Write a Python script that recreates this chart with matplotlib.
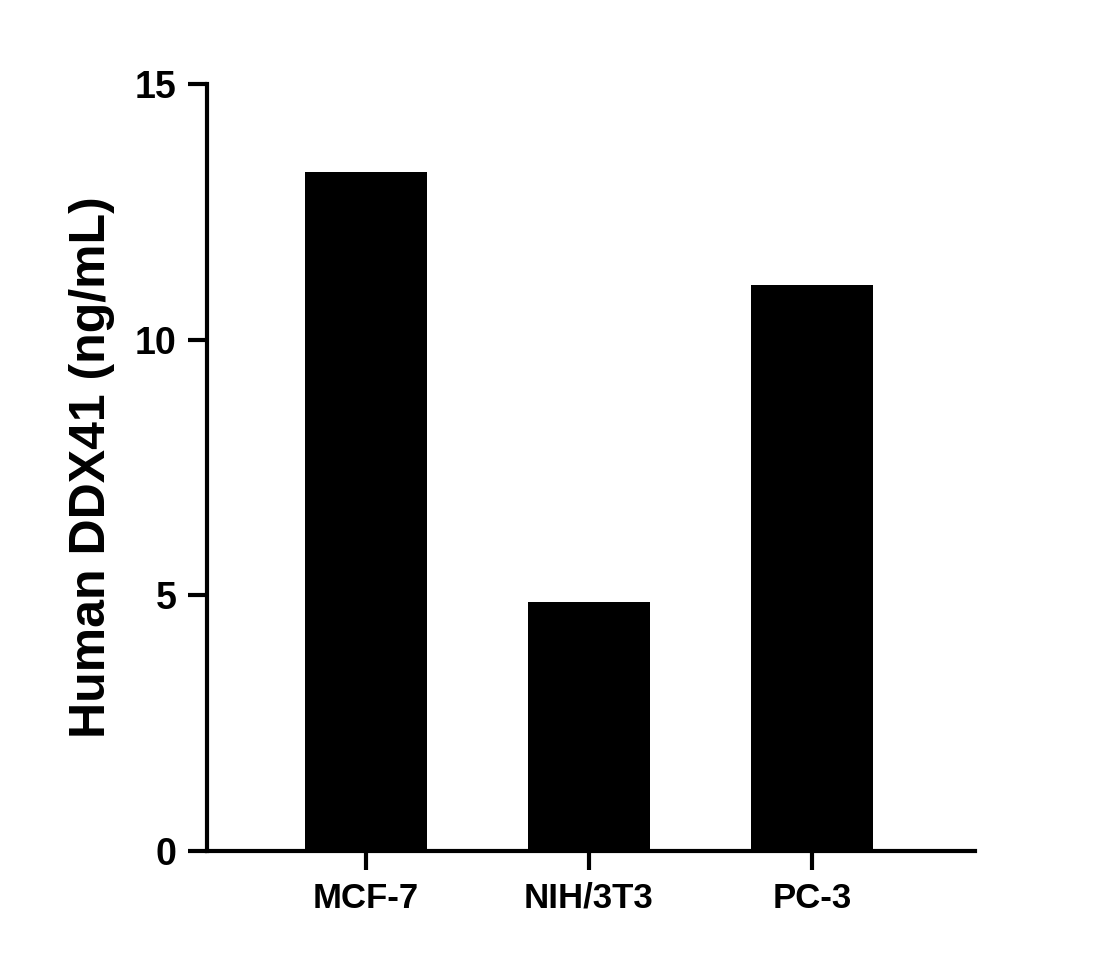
import matplotlib
matplotlib.use('Agg')
import matplotlib.pyplot as plt

categories = ['MCF-7', 'NIH/3T3', 'PC-3']
values = [13.28, 4.87, 11.07]
yticks = [0, 5, 10, 15]

plt.rcParams['font.family'] = ['Liberation Sans', 'DejaVu Sans']
plt.rcParams['font.weight'] = 'bold'

fig = plt.figure(figsize=(11.11, 9.67), dpi=100)
ax = fig.add_axes([0.1863, 0.12, 0.691, 0.793])

x = range(len(categories))
ax.bar(x, values, width=0.55, color='black')

ax.set_xlim(-0.713, 2.73)
ax.set_ylim(0, 15)
ax.set_yticks(yticks)
ax.set_xticks(list(x))
ax.set_xticklabels(categories, fontsize=25, fontweight='bold')
ax.set_yticklabels([str(t) for t in yticks], fontsize=27, fontweight='bold')
ax.set_ylabel('Human DDX41 (ng/mL)', fontsize=36, fontweight='bold', labelpad=14)

for side in ['top', 'right']:
    ax.spines[side].set_visible(False)
for side in ['left', 'bottom']:
    ax.spines[side].set_linewidth(3)
ax.tick_params(axis='both', width=3, length=14, pad=8)

fig.savefig('out.png', dpi=100)
